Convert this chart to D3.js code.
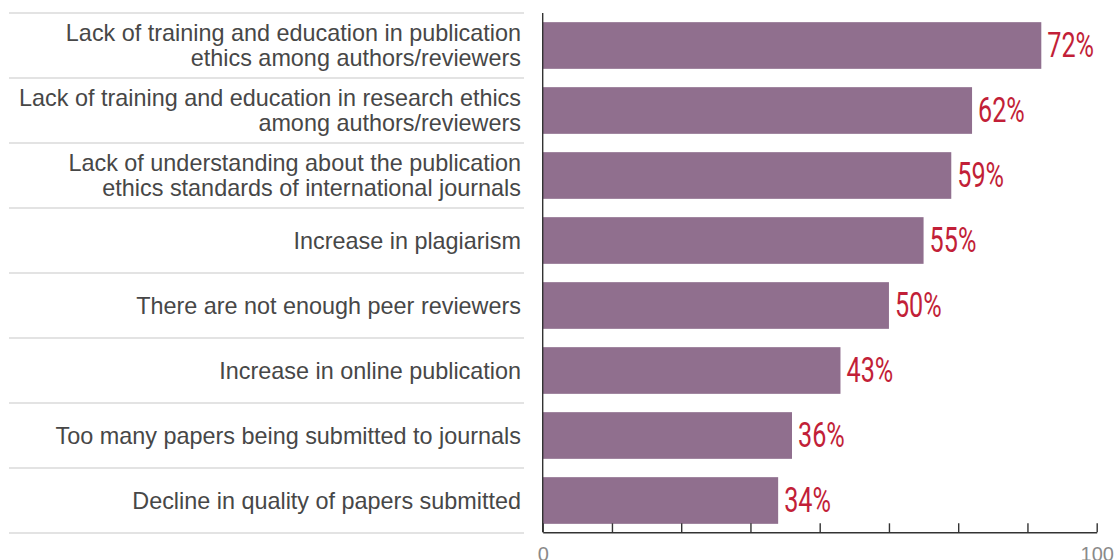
<!DOCTYPE html>
<html>
<head>
<meta charset="utf-8">
<script src="https://cdn.jsdelivr.net/npm/d3@7"></script>
<style>
  html, body { margin: 0; padding: 0; background: #fff; }
  svg { display: block; }
</style>
</head>
<body>
<svg id="chart" width="1114" height="560"></svg>
<script>
// Survey responses: perceived causes of publication-ethics problems
const categories = [
  "Lack of training and education in publication\nethics among authors/reviewers",
  "Lack of training and education in research ethics\namong authors/reviewers",
  "Lack of understanding about the publication\nethics standards of international journals",
  "Increase in plagiarism",
  "There are not enough peer reviewers",
  "Increase in online publication",
  "Too many papers being submitted to journals",
  "Decline in quality of papers submitted"
];
const values = [72, 62, 59, 55, 50, 43, 36, 34];

// Axis ticks and the labels printed under them
const tickValues = [0, 10, 20, 30, 40, 50, 60, 70, 80];
const tickLabels = ["0", "", "", "", "", "", "", "", "100"];

const svg = d3.select("#chart");

const x = d3.scaleLinear().domain([0, 80]).range([542.7, 1096.7]);
const y = d3.scaleBand()
  .domain(categories)
  .range([13, 533])
  .paddingInner(0.282)
  .paddingOuter(0.141);

const step = y.step();

// Row separators on the label side
const bounds = d3.range(categories.length + 1).map(i => y.range()[0] + i * step);
svg.append("g")
  .selectAll("line")
  .data(bounds)
  .join("line")
  .attr("x1", 9).attr("x2", 524)
  .attr("y1", d => d).attr("y2", d => d)
  .attr("stroke", "#c8c8c8")
  .attr("stroke-width", 1.2);

// Bars
svg.append("g")
  .selectAll("rect")
  .data(values)
  .join("rect")
  .attr("x", x(0))
  .attr("y", (d, i) => y(categories[i]))
  .attr("width", d => x(d) - x(0))
  .attr("height", y.bandwidth())
  .attr("fill", "#906f8e");

// Category labels, right-aligned, wrapped on newlines
const labelG = svg.append("g");
categories.forEach(c => {
  const lines = c.split("\n");
  const cy = y(c) + y.bandwidth() / 2;
  const lh = 24.5;
  const t = labelG.append("text")
    .attr("text-anchor", "end")
    .attr("font-family", "'Liberation Sans', Arial, Helvetica, sans-serif")
    .attr("font-size", 23.4)
    .attr("fill", "#474747");
  lines.forEach((ln, j) => {
    t.append("tspan")
      .attr("x", 521)
      .attr("y", cy + 8.2 + (j - (lines.length - 1) / 2) * lh)
      .text(ln);
  });
});

// Value labels in condensed red type
svg.append("g")
  .selectAll("text")
  .data(values)
  .join("text")
  .attr("transform", (d, i) => `translate(${x(d) + 6},${y(categories[i]) + y.bandwidth() / 2 + 11.5}) scale(0.72,1)`)
  .attr("font-family", "Roboto, 'Liberation Sans', sans-serif")
  .attr("font-weight", 400)
  .attr("font-size", 35)
  .attr("fill", "#c21f38")
  .text(d => d + "%");

// Vertical baseline of the bars
svg.append("line")
  .attr("x1", x(0)).attr("x2", x(0))
  .attr("y1", 13).attr("y2", 532.3)
  .attr("stroke", "#333").attr("stroke-width", 1.4);

// Bottom axis with upward ticks
const axis = d3.axisBottom(x)
  .tickValues(tickValues)
  .tickSize(-9)
  .tickSizeOuter(0)
  .tickFormat((d, i) => tickLabels[i]);

const ax = svg.append("g")
  .attr("transform", "translate(0,532.3)")
  .call(axis);
ax.select(".domain").attr("stroke", "#333").attr("stroke-width", 1.4);
ax.selectAll(".tick line").attr("stroke", "#333").attr("stroke-width", 1.4);
ax.selectAll(".tick text")
  .attr("y", 15)
  .attr("dy", "0.71em")
  .attr("font-family", "'Liberation Sans', Arial, sans-serif")
  .attr("font-size", 20)
  .attr("fill", "#8a8a8a");
</script>
</body>
</html>
